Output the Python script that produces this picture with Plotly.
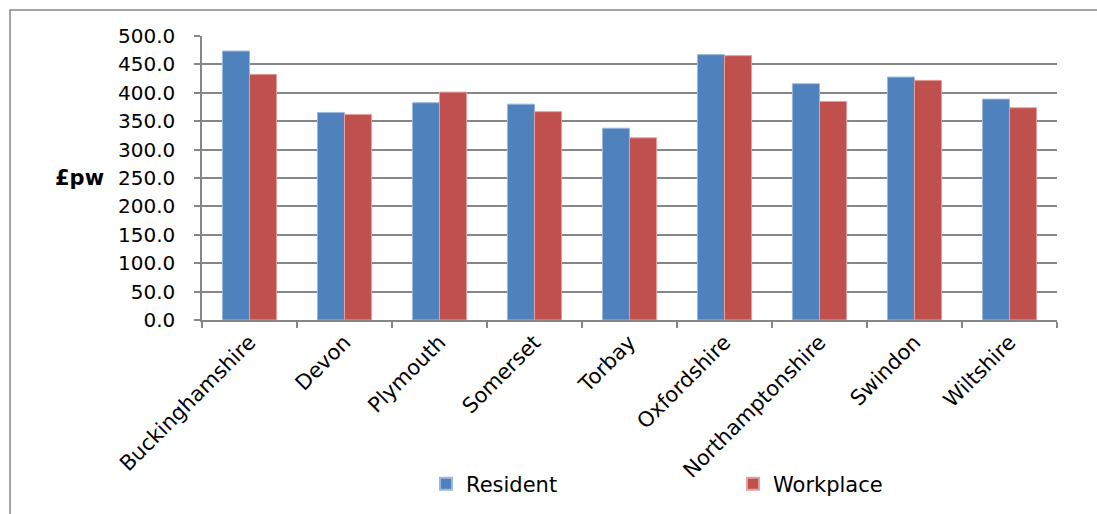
import plotly.graph_objects as go

categories = ["Buckinghamshire", "Devon", "Plymouth", "Somerset", "Torbay",
              "Oxfordshire", "Northamptonshire", "Swindon", "Wiltshire"]
resident = [473.5, 365.4, 382.5, 380.0, 337.7, 467.2, 416.0, 427.7, 388.9]
workplace = [432.5, 362.0, 401.2, 366.7, 320.8, 465.4, 384.8, 421.9, 373.7]
y_ticks = [0, 50, 100, 150, 200, 250, 300, 350, 400, 450, 500]

FONT = "DejaVu Sans"
FS = 21
W, H = 1097, 514
L, R, T, B = 202, 40, 36, 194
pw = W - L - R
ph = H - T - B

def px_x(x):
    return (x - L) / pw

def px_y(y):
    return (H - B - y) / ph

fig = go.Figure()
fig.add_trace(go.Bar(name="Resident", x=categories, y=resident, legend="legend",
                     marker=dict(color="#4F81BD", line=dict(color="#9DB8DC", width=1))))
fig.add_trace(go.Bar(name="Workplace", x=categories, y=workplace, legend="legend2",
                     marker=dict(color="#C0504D", line=dict(color="#E3A09E", width=1))))

leg_common = dict(orientation="h", xanchor="left", yanchor="middle",
                  font=dict(family=FONT, size=FS, color="black"),
                  bgcolor="rgba(0,0,0,0)", itemsizing="constant")

fig.update_layout(
    width=W, height=H,
    margin=dict(l=L, r=R, t=T, b=B, autoexpand=False),
    paper_bgcolor="white", plot_bgcolor="white",
    barmode="group", bargap=0.43, bargroupgap=0,
    font=dict(family=FONT, size=FS, color="black"),
    showlegend=True,
    legend=dict(x=px_x(426), y=px_y(484), **leg_common),
    legend2=dict(x=px_x(733), y=px_y(484), **leg_common),
    xaxis=dict(type="category", tickangle=-45, tickson="boundaries", ticks="outside",
               ticklen=6, tickcolor="#868686", tickwidth=1.5, automargin=False,
               showline=True, linecolor="#868686", linewidth=1.5,
               showgrid=False, tickfont=dict(family=FONT, size=FS, color="black")),
    yaxis=dict(range=[0, 500], tickvals=y_ticks, tickformat=".1f", ticks="outside",
               ticklen=6, tickcolor="#868686", tickwidth=1.5, automargin=False,
               ticklabelstandoff=15,
               showline=True, linecolor="#868686", linewidth=1.5,
               showgrid=True, gridcolor="#868686", gridwidth=1.5,
               zeroline=False, tickfont=dict(family=FONT, size=20, color="black")),
    shapes=[dict(type="rect", xref="paper", yref="paper",
                 x0=px_x(10), x1=px_x(1110), y0=px_y(530), y1=px_y(10),
                 line=dict(color="#868686", width=1.5), fillcolor="rgba(0,0,0,0)", layer="below")],
    annotations=[dict(text="<b>£pw</b>", xref="paper", yref="paper",
                      x=px_x(80), y=px_y(178), xanchor="center", yanchor="middle",
                      showarrow=False, font=dict(family=FONT, size=FS, color="black"))],
)

fig.write_html("out.html")
